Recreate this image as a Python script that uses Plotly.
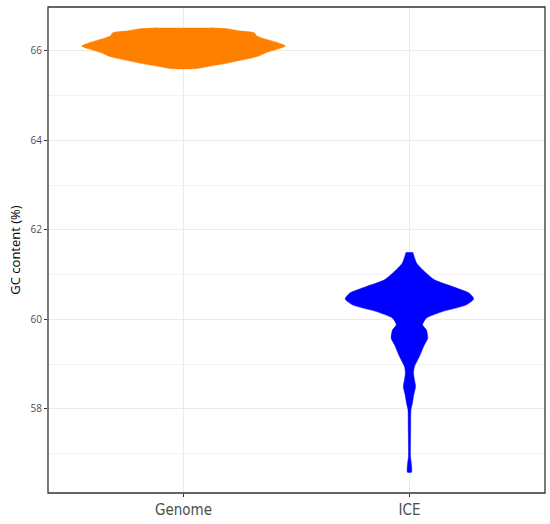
import plotly.graph_objects as go

categories = ["Genome", "ICE"]
positions = [1, 2]
colors = ["#FF8000", "#0000FF"]

# Violin outlines: GC content level and half-width (x units)
genome_gc = [66.514, 66.49, 66.447, 66.402, 66.335, 66.29, 66.20, 66.11, 66.045,
             65.955, 65.89, 65.84, 65.78, 65.71, 65.64, 65.60]
genome_hw = [0.115, 0.199, 0.248, 0.314, 0.323, 0.345, 0.407, 0.451, 0.42,
             0.363, 0.336, 0.301, 0.243, 0.177, 0.097, 0.049]

ice_gc = [61.50, 61.256, 61.032, 60.883, 60.733, 60.586, 60.458, 60.324, 60.174,
          60.027, 59.877, 59.765, 59.58, 59.43, 59.17, 58.945, 58.80, 58.65, 58.50,
          58.313, 58.127, 57.978, 57.53, 56.934, 56.793, 56.585]
ice_hw = [0.015, 0.032, 0.075, 0.111, 0.19, 0.265, 0.285, 0.252, 0.146,
          0.075, 0.058, 0.075, 0.081, 0.066, 0.044, 0.022, 0.018, 0.022, 0.027,
          0.019, 0.013, 0.0066, 0.0053, 0.0044, 0.008, 0.009]

y_ticks = [58, 60, 62, 64, 66]
y_range = [56.12, 66.98]

profiles = [(genome_gc, genome_hw), (ice_gc, ice_hw)]

fig = go.Figure()
for name, pos, col, (gc, hw) in zip(categories, positions, colors, profiles):
    xs = [pos - w for w in hw] + [pos + w for w in reversed(hw)]
    ys = list(gc) + list(reversed(gc))
    fig.add_trace(go.Scatter(
        x=xs, y=ys, mode="lines", fill="toself", fillcolor=col,
        line=dict(color=col, width=0.5, shape="spline", smoothing=0.6),
        name=name, showlegend=False, hoverinfo="skip"))

fig.update_layout(
    width=550, height=524,
    margin=dict(l=48, r=5, t=7, b=31),
    paper_bgcolor="white", plot_bgcolor="white",
    font=dict(family="Open Sans, Noto Sans, sans-serif", color="#4D4D4D"),
)
fig.add_shape(type="rect", xref="paper", yref="paper", x0=0, y0=0, x1=1, y1=1,
              line=dict(color="#333333", width=1.3), layer="above")
fig.update_xaxes(
    range=[0.4, 2.6], tickvals=positions, ticktext=categories, automargin=False,
    showgrid=True, gridcolor="#EBEBEB", gridwidth=1, zeroline=False,
    showline=False,
    ticks="outside", ticklen=3, tickcolor="#333333", tickwidth=1,
    tickfont=dict(family="Liberation Sans Narrow, DejaVu Sans Condensed, sans-serif",
                  size=15, color="#4D4D4D"),
)
fig.update_yaxes(
    range=y_range, tickvals=y_ticks, automargin=False,
    showgrid=True, gridcolor="#EBEBEB", gridwidth=1, zeroline=False,
    minor=dict(dtick=1, tick0=0, showgrid=True, gridcolor="#F2F2F2", gridwidth=0.6, ticks=""),
    showline=False,
    ticks="outside", ticklen=3, tickcolor="#333333", tickwidth=1,
    tickfont=dict(size=10, color="#4D4D4D"),
    title=dict(text="GC content (%)", font=dict(size=13, color="black"), standoff=7),
)

fig.write_html("out.html", config={"displayModeBar": False},
               post_script="document.body.style.margin='0px';document.body.style.overflow='hidden';")
